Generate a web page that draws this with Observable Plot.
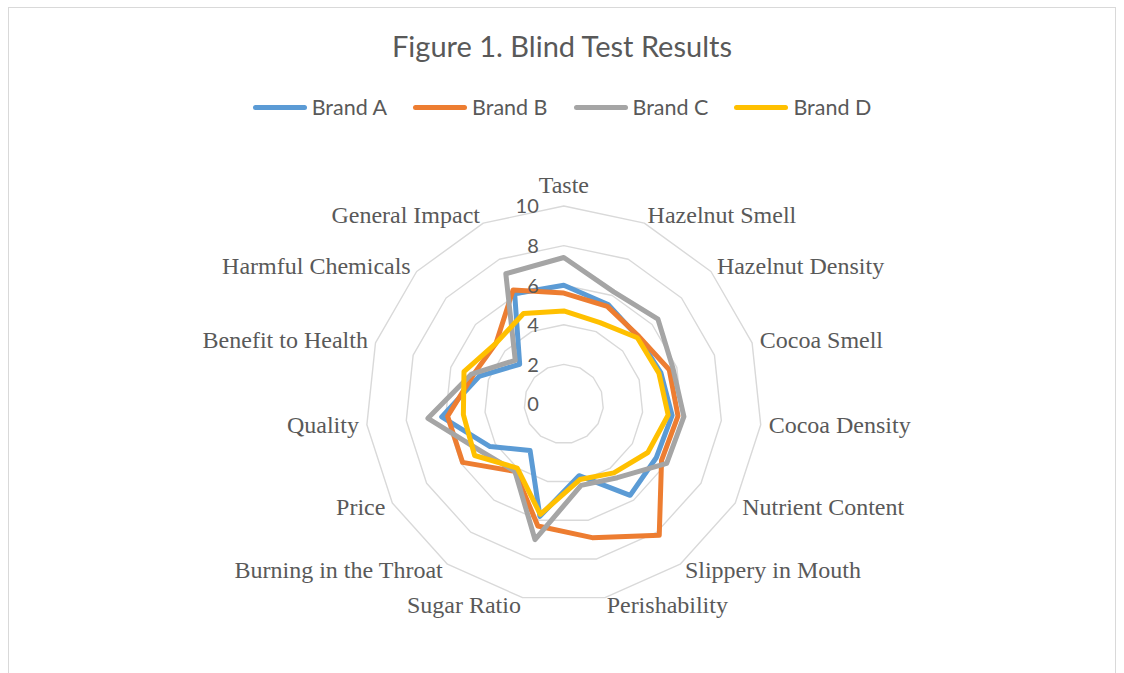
<!DOCTYPE html>
<html>
<head>
<meta charset="utf-8">
<script src="https://cdn.jsdelivr.net/npm/d3@7"></script>
<script src="https://cdn.jsdelivr.net/npm/@observablehq/plot@0.6"></script>
<style>
  html, body { margin: 0; padding: 0; background: #fff; }
  #wrap { position: relative; width: 1124px; height: 673px; overflow: hidden; }
  #frame { position: absolute; left: 8px; top: 7px; width: 1108px; height: 720px; border: 1px solid #d9d9d9; box-sizing: border-box; }
  #title { position: absolute; left: 0; top: 27px; width: 1124px; text-align: center; font-family: Lato, "Open Sans", sans-serif; font-size: 29px; color: #595959; line-height: 38px; }
  #legend { position: absolute; left: 0; top: 93px; width: 1124px; display: flex; justify-content: center; font-family: Lato, "Open Sans", sans-serif; font-size: 21.5px; color: #595959; line-height: 28px; }
  .item { display: flex; align-items: center; margin: 0 13px; }
  .sw { display: inline-block; width: 54px; height: 5px; border-radius: 3px; margin-right: 5px; }
  #chart { position: absolute; left: 0; top: 150px; }
</style>
</head>
<body>
<div id="wrap">
  <div id="frame"></div>
  <div id="title">Figure 1. Blind Test Results</div>
  <div id="legend"></div>
  <div id="chart"></div>
</div>
<script>
const categories = ["Taste", "Hazelnut Smell", "Hazelnut Density", "Cocoa Smell", "Cocoa Density",
  "Nutrient Content", "Slippery in Mouth", "Perishability", "Sugar Ratio", "Burning in the Throat",
  "Price", "Quality", "Benefit to Health", "Harmful Chemicals", "General Impact"];
const brands = ["Brand A", "Brand B", "Brand C", "Brand D"];
const brandA = [6.0, 5.5, 5.05, 5.15, 5.5, 5.4, 5.7, 3.7, 5.8, 2.9, 4.3, 6.2, 4.5, 3.0, 6.1];
const brandB = [5.6, 5.4, 5.1, 5.6, 5.8, 5.7, 8.2, 6.9, 6.3, 4.2, 5.9, 5.9, 4.8, 4.6, 6.3];
const brandC = [7.4, 6.2, 6.4, 5.8, 6.1, 6.0, 4.6, 4.2, 7.0, 4.2, 4.8, 6.9, 4.9, 3.3, 7.2];
const brandD = [4.7, 4.5, 5.0, 5.05, 5.3, 4.9, 4.3, 3.9, 5.7, 4.0, 5.2, 5.1, 5.3, 4.6, 5.0];
const colors = ["#5B9BD5", "#ED7D31", "#A5A5A5", "#FFC000"];
const ringValues = [2, 4, 6, 8, 10];
const tickLabels = ["0", "2", "4", "6", "8", "10"];

// layout
const W = 1124, H = 510;
const cx = 563.3, cy = 253.5;   // centre inside the svg (px)
const K = 19.8;                 // px per unit
const rMax = 10;

const n = categories.length;
const ang = i => 2 * Math.PI * i / n;
const px = (r, i) => r * Math.sin(ang(i));
const py = (r, i) => r * Math.cos(ang(i));

const seriesValues = [brandA, brandB, brandC, brandD];
const seriesData = [];
brands.forEach((b, k) => seriesValues[k].forEach((v, i) => seriesData.push({brand: b, i, v})));
const rings = ringValues.flatMap(r => categories.map((c, i) => ({r, i})));

const off = 8 / K;
const labels = categories.map((c, i) => {
  const s = Math.sin(ang(i)), co = Math.cos(ang(i));
  const anchor = s > 0.01 ? "start" : s < -0.01 ? "end" : "middle";
  const extra = anchor === "middle" ? 13 / K : 0;
  return {c, anchor, x: (rMax + off) * s, y: (rMax + off) * co + extra};
});

const fontCat = "'Liberation Serif', 'Times New Roman', serif";
const fontSans = "Lato, 'Open Sans', sans-serif";

const chart = Plot.plot({
  width: W, height: H, margin: 0,
  x: {domain: [-cx / K, (W - cx) / K], range: [0, W], axis: null},
  y: {domain: [-(H - cy) / K, cy / K], range: [H, 0], axis: null},
  color: {domain: brands, range: colors},
  style: {background: "transparent", overflow: "visible"},
  marks: [
    Plot.line(rings, {x: d => px(d.r, d.i), y: d => py(d.r, d.i), z: "r", curve: "linear-closed",
      stroke: "#d9d9d9", strokeWidth: 1.4}),
    Plot.line(seriesData, {x: d => px(d.v, d.i), y: d => py(d.v, d.i), z: "brand", stroke: "brand",
      curve: "linear-closed", strokeWidth: 5, strokeLinejoin: "round", strokeLinecap: "round"}),
    Plot.text(tickLabels, {x: 0, y: d => +d, text: d => d, textAnchor: "end", dx: -25, dy: 1,
      fill: "#595959", fontSize: 20, fontFamily: fontSans}),
    ...["start", "end", "middle"].map(a => Plot.text(labels.filter(l => l.anchor === a),
      {x: "x", y: "y", text: "c", textAnchor: a, fill: "#595959", fontSize: 24, fontFamily: fontCat}))
  ]
});
document.getElementById("chart").appendChild(chart);

const legend = document.getElementById("legend");
brands.forEach((b, k) => {
  const it = document.createElement("div");
  it.className = "item";
  const sw = document.createElement("span");
  sw.className = "sw";
  sw.style.background = colors[k];
  it.appendChild(sw);
  it.appendChild(document.createTextNode(b));
  legend.appendChild(it);
});
</script>
</body>
</html>
